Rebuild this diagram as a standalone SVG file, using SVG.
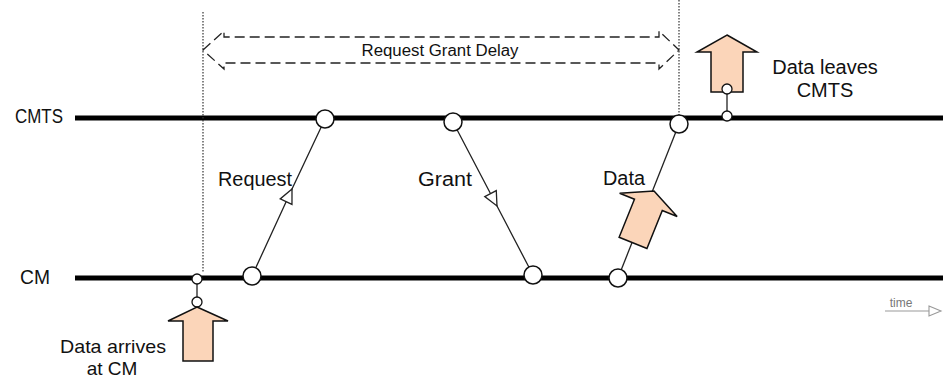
<svg xmlns="http://www.w3.org/2000/svg" width="943" height="379" viewBox="0 0 943 379">
<style>
text{font-family:"Liberation Sans",Arial,sans-serif;fill:#111}
.lbl{font-size:20px}
.lbl2{font-size:19px}
.axis{stroke:#000;stroke-width:5;fill:none}
.msg{stroke:#222;stroke-width:1.3;fill:none}
.dot{stroke:#333;stroke-width:1.2;stroke-dasharray:1.5 1.5;fill:none}
.big{fill:#fff;stroke:#111;stroke-width:1.5}
.sm{fill:#fff;stroke:#111;stroke-width:1.3}
.blk{fill:#FBD5B9;stroke:#111;stroke-width:1.5;stroke-linejoin:miter}
</style>
<defs>
<marker id="tri" markerUnits="userSpaceOnUse" markerWidth="20" markerHeight="20" viewBox="-16 -8 20 16" refX="0" refY="0" orient="auto">
<path d="M0,0 L-14,-6.5 L-14,6.5 Z" fill="#fff" stroke="#222" stroke-width="1.3"/>
</marker>
<marker id="timetri" markerUnits="userSpaceOnUse" markerWidth="16" markerHeight="14" viewBox="-1 -7 16 14" refX="0" refY="0" orient="auto">
<path d="M0,-5 L12,0 L0,5 Z" fill="#fff" stroke="#999" stroke-width="1.1"/>
</marker>
</defs>

<g id="timelines">
<line class="axis" x1="75" y1="118" x2="943" y2="118"/>
<line class="axis" x1="75" y1="278" x2="943" y2="278"/>
<line class="dot" x1="203" y1="12" x2="203" y2="272"/>
<line class="dot" x1="679" y1="0" x2="679" y2="116"/>
</g>

<g id="labels">
<text class="lbl" x="63" y="123" text-anchor="end" textLength="48" lengthAdjust="spacingAndGlyphs">CMTS</text>
<text class="lbl" x="50" y="284" text-anchor="end" textLength="30" lengthAdjust="spacingAndGlyphs">CM</text>
</g>

<g id="delay">
<path d="M203,50 L224,31 L224,37 L659,37 L659,31 L679,50 L659,69 L659,63 L224,63 L224,69 Z" fill="none" stroke="#222" stroke-width="1.3" stroke-dasharray="10 5"/>
<text x="440" y="56" font-size="16" text-anchor="middle" textLength="157" lengthAdjust="spacingAndGlyphs">Request Grant Delay</text>
</g>

<g id="connectors">
<path class="msg" d="M252,276 L292,189 L325,119" marker-mid="url(#tri)"/>
<path class="msg" d="M453,122 L497,206 L533,275" marker-mid="url(#tri)"/>
<line class="msg" x1="618" y1="278" x2="679" y2="124"/>
<line class="msg" x1="197" y1="279" x2="197" y2="302"/>
<line class="msg" x1="727" y1="89" x2="727" y2="116"/>
</g>

<g id="request">
<circle class="big" cx="252" cy="276" r="9"/>
<circle class="big" cx="325" cy="119" r="9"/>
<text class="lbl" x="218" y="186" textLength="74" lengthAdjust="spacingAndGlyphs">Request</text>
</g>

<g id="grant">
<circle class="big" cx="453" cy="122" r="9"/>
<circle class="big" cx="533" cy="275" r="9"/>
<text class="lbl" x="418" y="186" textLength="54" lengthAdjust="spacingAndGlyphs">Grant</text>
</g>

<g id="data">
<circle class="big" cx="618" cy="278" r="9"/>
<circle class="big" cx="679" cy="124" r="9"/>
<polygon class="blk" transform="translate(654,191) rotate(22)" points="0,0 31,15 15,15 15,56 -15,56 -15,15 -31,15"/>
<text class="lbl" x="603" y="185" textLength="42" lengthAdjust="spacingAndGlyphs">Data</text>
</g>

<g id="arrives">
<circle class="sm" cx="197" cy="279" r="5"/>
<circle class="sm" cx="197" cy="302" r="5"/>
<polygon class="blk" points="197,307 228,321 213,321 213,361 183,361 183,321 168,321"/>
<text class="lbl2" x="113" y="353" text-anchor="middle" textLength="106" lengthAdjust="spacingAndGlyphs">Data arrives</text>
<text class="lbl2" x="112" y="375" text-anchor="middle">at CM</text>
</g>

<g id="leaves">
<polygon class="blk" points="727,35 757,52 743,52 743,92 711,92 711,52 697,52"/>
<circle class="sm" cx="727" cy="89" r="5"/>
<circle class="sm" cx="727" cy="116" r="5"/>
<text class="lbl" x="825" y="74" text-anchor="middle">Data leaves</text>
<text class="lbl" x="825" y="97" text-anchor="middle">CMTS</text>
</g>

<g id="time">
<text x="901" y="307" font-size="12" text-anchor="middle" style="fill:#777">time</text>
<line x1="885" y1="311" x2="929" y2="311" stroke="#999" stroke-width="1.1" marker-end="url(#timetri)"/>
</g>
</svg>
